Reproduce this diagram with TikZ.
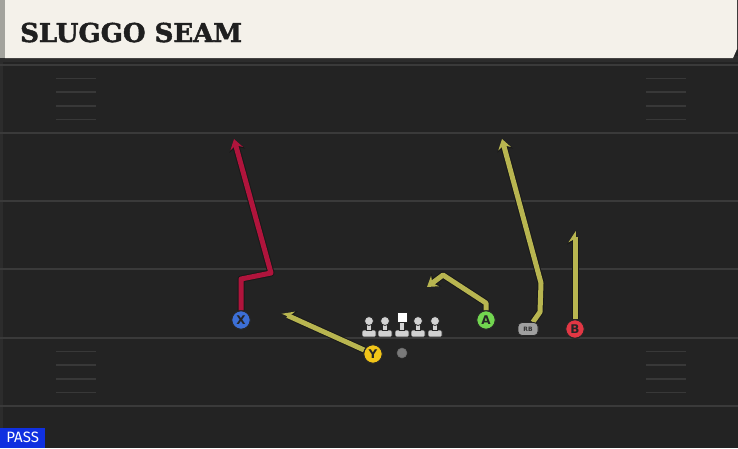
\documentclass[tikz,border=0pt]{standalone}
\usepackage{fontspec}
\setmainfont{DejaVu Sans}
\newfontfamily\titlefont{DejaVu Serif}[BoldFont={DejaVu Serif Bold}, BoldFeatures={FakeBold=1.8}]
\newfontfamily\passfont{Fira Sans}
\usetikzlibrary{arrows.meta}
\definecolor{fieldbg}{HTML}{232323}
\definecolor{cream}{HTML}{F4F1EA}
\definecolor{stripgray}{HTML}{A3A39D}
\definecolor{bandgray}{HTML}{2C2C2C}
\definecolor{yardcol}{HTML}{3A3A3A}
\definecolor{hashcol}{HTML}{383838}
\definecolor{routered}{HTML}{B0143C}
\definecolor{routeyel}{HTML}{B8B550}
\definecolor{xblue}{HTML}{3C6FD6}
\definecolor{yyel}{HTML}{F2C518}
\definecolor{agreen}{HTML}{72D650}
\definecolor{bred}{HTML}{E23744}
\definecolor{olgray}{HTML}{D2D2D2}
\definecolor{rbgray}{HTML}{A0A0A0}
\definecolor{qbgray}{HTML}{7A7A7A}
\definecolor{passblue}{HTML}{1030E0}
\tikzset{
  yard/.style={draw=yardcol, line width=1.6pt},
  hashm/.style={draw=hashcol, line width=1.5pt},
  player/.style={circle, minimum size=18.5pt, inner sep=0pt, draw=black!85, line width=1pt,
    font=\bfseries\fontsize{12}{12}\selectfont, text=black!85},
  rbnode/.style={rectangle, rounded corners=4pt, minimum width=20pt, minimum height=13pt, inner sep=0pt,
    fill=rbgray, draw=black!85, line width=0.8pt, font=\bfseries\fontsize{6}{6}\selectfont,
    text=black!80},
  outl/.style={draw=black!90, line width=7pt, line join=round},
  redroute/.style={draw=routered, line width=5pt, line join=round},
  yelroute/.style={draw=routeyel, line width=5pt, line join=round},
  tipfull/.style={-{Stealth[length=10pt, width=13pt, inset=3.5pt]}},
  tipout/.style={-{Stealth[length=12pt, width=16pt, inset=4pt]}},
  olman/.style={fill=olgray, draw=black!85, line width=0.8pt},
}
\begin{document}
\begin{tikzpicture}[x=1pt, y=-1pt]
\useasboundingbox (0,0) rectangle (738,448);
\fill[fieldbg] (0,0) rectangle (738,448);
\fill[bandgray] (0,0) rectangle (3,448);
% title bar
\fill[bandgray] (0,56) rectangle (738,62);
\fill[stripgray] (0,0) rectangle (5,58);
\fill[cream] (5,0) -- (737,0) -- (737,49) -- (733,58) -- (5,58) -- cycle;
\node[anchor=base west, inner sep=0pt, text=black!88,
  font=\titlefont\bfseries\fontsize{26}{26}\selectfont] (title) at (20,42) {SLUGGO SEAM};
% yard lines
\foreach \yy in {65,133,201,269,338,406} \draw[yard] (0,\yy) -- (738,\yy);
% hash marks
\foreach \bb in {65,338} {
  \foreach \k in {1,...,4} {
    \draw[hashm] (56,{\bb+13.6*\k}) -- (96,{\bb+13.6*\k});
    \draw[hashm] (646,{\bb+13.6*\k}) -- (686,{\bb+13.6*\k});
  }
}
% players
\node[player, fill=xblue] (X) at (241,320) {X};
\node[player, fill=yyel] (Y) at (373,354) {Y};
\node[player, fill=agreen] (A) at (486,320) {A};
\node[player, fill=bred] (B) at (575,329) {B};
\node[rbnode] (RB) at (528,329) {RB};
\node[circle, fill=qbgray, draw=black!60, line width=0.5pt, minimum size=10pt, inner sep=0pt] (QB) at (402,353) {};
% route waypoints
\coordinate (x1) at (241,279);
\coordinate (x2) at (271,273);
\coordinate (xe) at (234,139);
\coordinate (ye) at (282,313);
\coordinate (a1) at (486,303);
\coordinate (a2) at (443,275);
\coordinate (ae) at (427,287);
\coordinate (r1) at (540,312);
\coordinate (r2) at (541,283);
\coordinate (re) at (502,139);
\coordinate (be) at (575,231);
% outlines
\draw[outl, tipout] (X) -- (x1) -- (x2) -- (xe);
\draw[outl, -{Stealth[harpoon, swap, length=12pt, width=16pt, inset=4pt]}] (Y) -- (ye);
\draw[outl, tipout] (A) -- (a1) -- (a2) -- (ae);
\draw[outl, tipout] (RB) -- (r1) -- (r2) -- (re);
\draw[outl, -{Stealth[harpoon, length=12pt, width=16pt, inset=4pt]}] (B) -- (be);
% routes
\draw[redroute, tipfull] (X) -- (x1) -- (x2) -- (xe);
\draw[yelroute, -{Stealth[harpoon, swap, length=10pt, width=13pt, inset=3.5pt]}] (Y) -- (ye);
\draw[yelroute, tipfull] (A) -- (a1) -- (a2) -- (ae);
\draw[yelroute, tipfull] (RB) -- (r1) -- (r2) -- (re);
\draw[yelroute, -{Stealth[harpoon, length=10pt, width=13pt, inset=3.5pt]}] (B) -- (be);
% redraw players on top
\node[player, fill=xblue] at (X) {X};
\node[player, fill=yyel] at (Y) {Y};
\node[player, fill=agreen] at (A) {A};
\node[player, fill=bred] at (B) {B};
\node[rbnode] at (RB) {RB};
% offensive line
\foreach \xx in {369,385,418,435} {
  \filldraw[olman, rounded corners=1.2pt] (\xx-7,330) rectangle (\xx+7,337);
  \filldraw[olman] (\xx-2.5,323) rectangle (\xx+2.5,330.5);
  \filldraw[olman] (\xx,321) circle (4.5pt);
}
\filldraw[olman, rounded corners=1.2pt] (395,330) rectangle (409,337);
\filldraw[olman] (399.5,321) rectangle (404.5,330.5);
\filldraw[fill=white, draw=black!85, line width=0.8pt] (397,312.5) rectangle (407,322);
% pass label
\node[anchor=south west, fill=passblue, minimum width=45pt, minimum height=20pt, inner sep=0pt,
  text=white, font=\passfont\fontsize{15}{15}\selectfont] (pass) at (0,448) {PASS};
\end{tikzpicture}
\end{document}
